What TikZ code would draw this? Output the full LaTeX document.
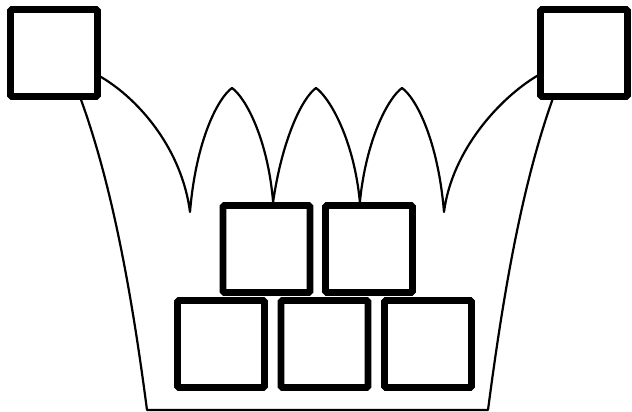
\documentclass[tikz,border=0pt]{standalone}
\usepackage{tikz}
\usetikzlibrary{positioning,calc}
\tikzset{
  block/.style = {draw=black, line width=6.8pt, rounded corners=1.5pt,
                  minimum width=87pt, minimum height=87pt, inner sep=0pt},
  wire/.style  = {draw=black, line width=2.2pt, line join=round, line cap=round},
}

\begin{document}
\begin{tikzpicture}[x=1pt, y=-1pt]
  \useasboundingbox (0,0) rectangle (632,412);

  % corner blocks
  \node[block] (tl) at (54,53) {};
  \node[block] (tr) at (584,53) {};

  % stacked blocks
  \node[block] (a1) at (266.5,249) {};
  \node[block] (a2) at (369,249) {};
  \node[block] (b1) at (221,344) {};
  \node[block] (b2) at (324.5,344) {};
  \node[block] (b3) at (428,344) {};

  % crown points
  \coordinate (cl) at (190,212);
  \coordinate (cr) at (444,212);
  \coordinate (bl) at (147,410);
  \coordinate (br) at (488,410);

  % crown
  \draw[wire] (tl.-27) .. controls (140,100) and (182,150) .. (cl)
    .. controls (196,140) and (218,98) .. (232,88)
    .. controls (246,98) and (268,140) .. (a1.82)
    .. controls (282,140) and (302,98) .. (316,88)
    .. controls (330,98) and (354,140) .. (a2.101)
    .. controls (366,140) and (388,98) .. (402,88)
    .. controls (416,98) and (438,140) .. (cr)
    .. controls (452,150) and (500,98) .. (tr.206);

  % basket
  \draw[wire] (tl.-60) .. controls (110,180) and (130,280) .. (bl)
    -- (br) .. controls (505,280) and (524,180) .. (tr.-124);
\end{tikzpicture}
\end{document}
